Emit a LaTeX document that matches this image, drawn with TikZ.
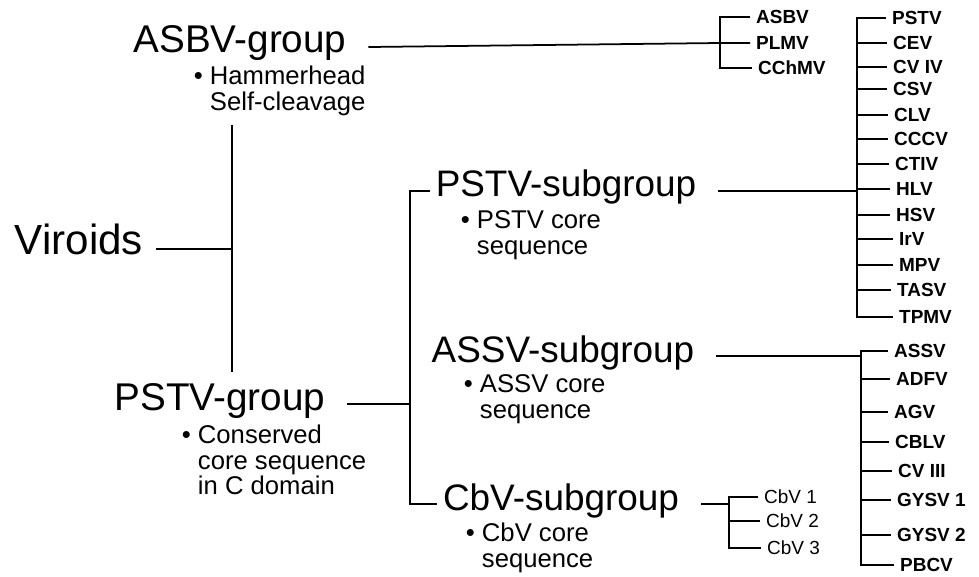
\documentclass[tikz,border=0pt]{standalone}
\usepackage{fontspec}
\setmainfont{Liberation Sans}
\newcommand{\bul}{\textbullet\ }
\newcommand{\nobul}{\hphantom{\textbullet\ }}
\begin{document}
\begin{tikzpicture}[x=0.02cm, y=-0.02cm, line width=1pt]
    \tikzset{%
      grp/.style={font=\fontsize{21}{25}\selectfont, text height=1.5ex, text depth=.25ex, inner xsep=3pt, anchor=base},
      maingrp/.style={grp, font=\fontsize{22}{26}\selectfont},
      topgrp/.style={grp, font=\fontsize{24}{28}\selectfont},
      note/.style={font=\fontsize{14.6}{14.6}\selectfont, align=left, anchor=north west, inner sep=0pt},
      leaf/.style={font=\fontsize{10.8}{12}\selectfont\bfseries, anchor=west, inner xsep=3pt, inner ysep=0pt},
      cbleaf/.style={leaf, font=\fontsize{10.8}{12}\selectfont},
      gap/.style={shorten <=9pt}
      }
    \useasboundingbox (0,0) rectangle (979,577);

    \node [topgrp] (Xvir) at (79,255) {Viroids};
    \node [maingrp] (Xasbvg) at (240,53) {ASBV-group};
    \node [note] (Xasbvn) at (193,65) {\bul Hammerhead\\\nobul Self-cleavage};
    \node [maingrp] (Xpstvg) at (220,410) {PSTV-group};
    \node [note] (Xpstvn) at (181,424) {\bul Conserved\\\nobul core sequence\\\nobul in C domain};

    \coordinate (Xtop) at (232,125);
    \coordinate (Xbot) at (232,372);
    \draw (Xtop) -- (Xbot);
    \draw [shorten <=4pt] (Xvir.east) -- (Xvir.east -| Xtop);

    \node [grp] (Xpstvs) at (566,197) {PSTV-subgroup};
    \node [note] (Xpstvsn) at (460,210) {\bul PSTV core\\\nobul sequence};
    \node [grp] (Xassvs) at (563,362) {ASSV-subgroup};
    \node [note] (Xassvsn) at (463,374) {\bul ASSV core\\\nobul sequence};
    \node [grp] (Xcbvs) at (561,510) {CbV-subgroup};
    \node [note] (Xcbvsn) at (465,522) {\bul CbV core\\\nobul sequence};

    \coordinate (Xmid) at (410,397);
    \draw [gap] (Xpstvg.east) -- (Xpstvg.east -| Xmid);
    \draw (Xpstvs.west) -| (Xmid) |- (Xcbvs.west);

    % ASBV-group
    \node [leaf] (Lasbv) at (750,17) {ASBV};
    \node [leaf] (Lplmv) at (750,43) {PLMV};
    \node [leaf] (Lcchmv) at (752,68) {CChMV};
    \coordinate (Xasbvbar) at (720,43);
    \draw [gap] (Xasbvg.east) -- (Xasbvbar) -- (Lplmv.west);
    \draw (Lasbv.west) -| (Xasbvbar) |- (Lcchmv.west);

    % PSTV-subgroup
    \node [leaf] (Lpstv) at (886,18) {PSTV};
    \node [leaf] (Lcev) at (887,43) {CEV};
    \node [leaf] (Lcviv) at (887,67) {CV IV};
    \node [leaf] (Lcsv) at (887,89) {CSV};
    \node [leaf] (Lclv) at (888,115) {CLV};
    \node [leaf] (Lcccv) at (888,139) {CCCV};
    \node [leaf] (Lctiv) at (889,164) {CTIV};
    \node [leaf] (Lhlv) at (890,189) {HLV};
    \node [leaf] (Lhsv) at (890,215) {HSV};
    \node [leaf] (Lirv) at (893,239) {IrV};
    \node [leaf] (Lmpv) at (893,265) {MPV};
    \node [leaf] (Ltasv) at (891,290) {TASV};
    \node [leaf] (Ltpmv) at (893,317) {TPMV};
    \coordinate (Xpbar) at (857,183);
    \draw [gap] (Xpstvs.east) -- (Xpstvs.east -| Xpbar);
    \draw (Lpstv.west) -- (Lpstv.west -| Xpbar) |- (Ltpmv.west);
    \draw (Lcev.west -| Xpbar) -- (Lcev.west);
    \draw (Lcviv.west -| Xpbar) -- (Lcviv.west);
    \draw (Lcsv.west -| Xpbar) -- (Lcsv.west);
    \draw (Lclv.west -| Xpbar) -- (Lclv.west);
    \draw (Lcccv.west -| Xpbar) -- (Lcccv.west);
    \draw (Lctiv.west -| Xpbar) -- (Lctiv.west);
    \draw (Lhlv.west -| Xpbar) -- (Lhlv.west);
    \draw (Lhsv.west -| Xpbar) -- (Lhsv.west);
    \draw (Lirv.west -| Xpbar) -- (Lirv.west);
    \draw (Lmpv.west -| Xpbar) -- (Lmpv.west);
    \draw (Ltasv.west -| Xpbar) -- (Ltasv.west);

    % ASSV-subgroup
    \node [leaf] (Lassv) at (888,351) {ASSV};
    \node [leaf] (Ladfv) at (890,379) {ADFV};
    \node [leaf] (Lagv) at (888,412) {AGV};
    \node [leaf] (Lcblv) at (889,442) {CBLV};
    \node [leaf] (Lcviii) at (892,471) {CV III};
    \node [leaf] (Lgysva) at (891,500) {GYSV 1};
    \node [leaf] (Lgysvb) at (891,535) {GYSV 2};
    \node [leaf] (Lpbcv) at (894,565) {PBCV};
    \coordinate (Xabar) at (861,351);
    \draw [gap] (Xassvs.east) -- (Xassvs.east -| Xabar);
    \draw (Lassv.west) -- (Lassv.west -| Xabar) |- (Lpbcv.west);
    \draw (Ladfv.west -| Xabar) -- (Ladfv.west);
    \draw (Lagv.west -| Xabar) -- (Lagv.west);
    \draw (Lcblv.west -| Xabar) -- (Lcblv.west);
    \draw (Lcviii.west -| Xabar) -- (Lcviii.west);
    \draw (Lgysva.west -| Xabar) -- (Lgysva.west);
    \draw (Lgysvb.west -| Xabar) -- (Lgysvb.west);

    % CbV-subgroup
    \node [cbleaf] (Lcbva) at (758,497) {CbV 1};
    \node [cbleaf] (Lcbvb) at (760,521) {CbV 2};
    \node [cbleaf] (Lcbvc) at (761,548) {CbV 3};
    \coordinate (Xcbar) at (729,497);
    \draw [gap] (Xcbvs.east) -- (Xcbvs.east -| Xcbar);
    \draw (Lcbva.west) -- (Lcbva.west -| Xcbar) |- (Lcbvc.west);
    \draw (Lcbvb.west -| Xcbar) -- (Lcbvb.west);
  \end{tikzpicture}
\end{document}
